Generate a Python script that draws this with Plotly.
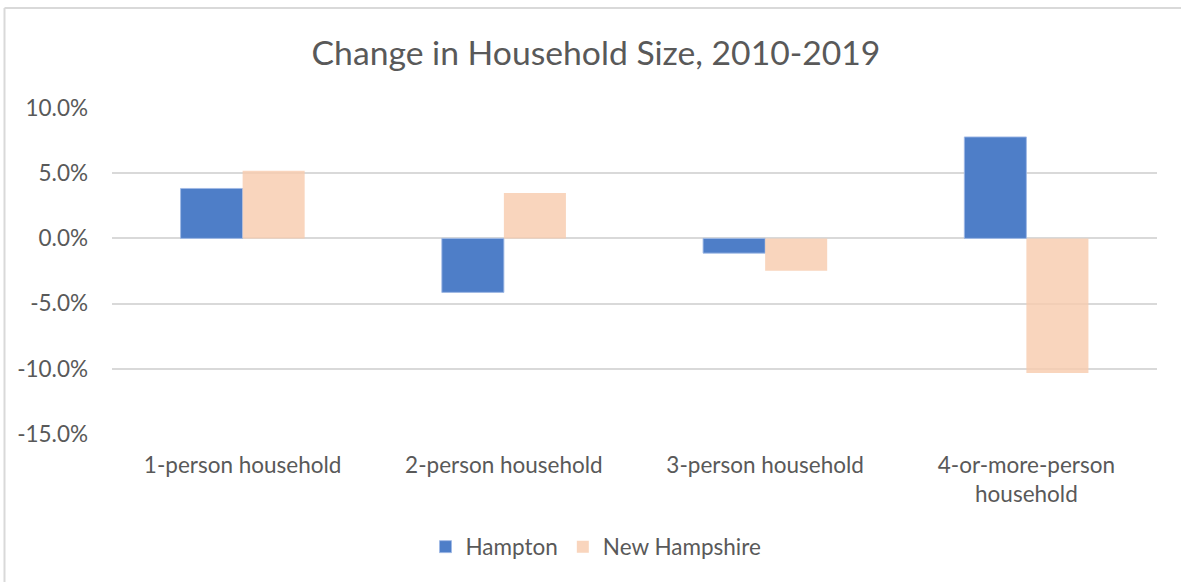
import plotly.graph_objects as go

categories = ["1-person household", "2-person household", "3-person household", "4-or-more-person<br>household"]
hampton = [3.83, -4.14, -1.13, 7.78]
new_hampshire = [5.19, 3.48, -2.48, -10.32]
tick_vals = [10, 5, 0, -5, -10, -15]
tick_text = ["10.0%", "5.0%", "0.0%", "-5.0%", "-10.0%", "-15.0%"]

W, H = 1181, 582
L, R, T, B = 112, 24, 108, 148
pw, ph = W - L - R, H - T - B

def px(x):
    return (x - L) / pw

def py(y):
    return (H - B - y) / ph

FONT = "Lato, Open Sans, sans-serif"
TXT = "#595959"
FS = 22.5

fig = go.Figure()
fig.add_trace(go.Bar(
    name="Hampton", x=categories, y=hampton,
    marker=dict(color="#4E7EC8", line=dict(color="rgba(160,185,230,0.9)", width=1)),
))
fig.add_trace(go.Bar(
    name="New Hampshire", x=categories, y=new_hampshire,
    marker=dict(color="rgba(248,203,173,0.8)", line=dict(width=0)),
))

fig.update_layout(
    width=W, height=H,
    margin=dict(l=L, r=R, t=T, b=B, autoexpand=False),
    paper_bgcolor="white", plot_bgcolor="white",
    barmode="group", bargap=0.525, bargroupgap=0,
    font=dict(family=FONT, color=TXT, size=FS),
    title=dict(text="Change in Household Size, 2010-2019", x=596 / W, xanchor="center",
               xref="container", y=1 - 53 / H, yanchor="middle", yref="container",
               font=dict(family=FONT, size=33.7, color=TXT)),
    legend=dict(orientation="h", x=px(596), xanchor="center", y=py(547), yanchor="middle",
                font=dict(family=FONT, size=FS, color=TXT), itemclick=False,
                traceorder="normal", itemwidth=30),
    showlegend=True,
)
fig.update_yaxes(
    range=[-15, 10], tickvals=tick_vals, ticktext=tick_text,
    showgrid=True, gridcolor="#D9D9D9", gridwidth=1.5,
    zeroline=True, zerolinecolor="#D9D9D9", zerolinewidth=1.5,
    showline=False, ticks="", ticklabelstandoff=23,
    tickfont=dict(family=FONT, size=FS, color=TXT),
)
fig.update_xaxes(
    showgrid=False, showline=False, ticks="", ticklabelstandoff=15,
    tickfont=dict(family=FONT, size=FS, color=TXT), tickangle=0,
)

# chart area border (left and top visible)
fig.add_shape(type="line", xref="paper", yref="paper", x0=px(4.5), x1=px(4.5), y0=py(8), y1=py(600),
              line=dict(color="#D9D9D9", width=2))
fig.add_shape(type="line", xref="paper", yref="paper", x0=px(4.5), x1=px(1200), y0=py(8), y1=py(8),
              line=dict(color="#D9D9D9", width=2))

fig.write_html("out.html", config={"displayModeBar": False},
               post_script="document.body.style.margin='0';document.body.style.overflow='hidden';")
